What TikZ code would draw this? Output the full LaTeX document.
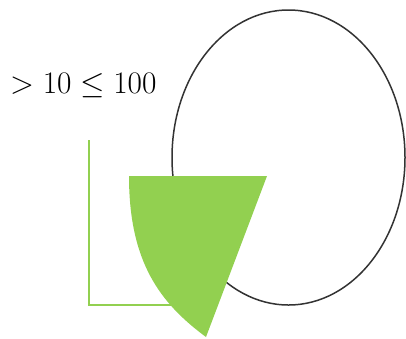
\documentclass[tikz,border=0pt]{standalone}
\usepackage{amsmath, amssymb}
\usetikzlibrary{shapes.geometric, positioning}
\definecolor{leafgreen}{RGB}{146, 208, 80}
\definecolor{darkline}{RGB}{51, 51, 51}

\begin{document}
\begin{tikzpicture}[x=1pt, y=-1pt, every node/.style={inner sep=0pt}]
        \useasboundingbox (0,0) rectangle (406,338);

        % ── Label ───────────────────────────────────────────────────────
        \node[anchor=base west]
        (range) at (10,93) {\scalebox{1.26}{\Huge$>10\leq100$}};

        % ── Outline ellipse ─────────────────────────────────────────────
        \node[draw=darkline, line width=1.5pt, ellipse,
        minimum width=233pt, minimum height=295pt]
        (oval) at (288.5,157.5) {};

        % ── Corner bracket ──────────────────────────────────────────────
        \coordinate (bracket top) at (89,140);
        \coordinate (bracket end) at (180,305);
        \draw[leafgreen, line width=1.6pt] (bracket top) |- (bracket end);

        % ── Green wedge ─────────────────────────────────────────────────
        \fill[leafgreen] (129,176) -- (267,176) -- (206,337)
        .. controls (160,303) and (129,262) .. (129,176) -- cycle;
      \end{tikzpicture}
\end{document}
